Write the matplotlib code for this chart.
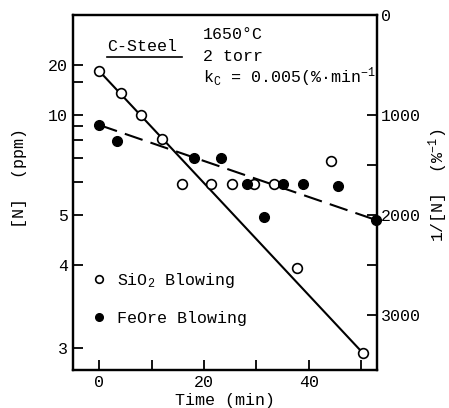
import matplotlib
matplotlib.use("Agg")
import matplotlib.pyplot as plt
from matplotlib.lines import Line2D

plt.rcParams['font.family'] = ['Liberation Mono', 'DejaVu Sans Mono']
plt.rcParams['mathtext.fontset'] = 'custom'
plt.rcParams['mathtext.rm'] = 'Liberation Mono'
plt.rcParams['mathtext.it'] = 'Liberation Mono'

# ---- data (1/[N] in %^-1) ----
sio2_t = [0, 4.2, 8.0, 12.0, 15.8, 21.3, 25.3, 29.5, 33.3, 37.7, 44.2, 50.3]
sio2_inv = [560, 780, 1000, 1240, 1690, 1690, 1690, 1690, 1690, 2530, 1460, 3380]
feore_t = [0, 3.4, 18.1, 23.2, 28.2, 31.4, 35.0, 38.9, 45.5, 52.8]
feore_inv = [1100, 1260, 1430, 1430, 1690, 2020, 1690, 1690, 1710, 2050]
sio2_fit_t = [0, 50.3]
sio2_fit_inv = [560, 3380]
feore_fit_t = [0, 52.8]
feore_fit_inv = [1100, 2050]

left_major_ppm = [20, 10, 5, 4, 3]
left_minor_ppm = [15, 9, 8, 7, 6]
right_major = [0, 1000, 2000, 3000]
right_minor = [1500, 2500]
x_major = [0, 20, 40]
x_minor = [10, 30, 50]

fig = plt.figure(figsize=(4.49, 4.08), dpi=100)
L, R, T, B = 73, 377, 15, 370
ax = fig.add_axes([L / 449, 1 - B / 408, (R - L) / 449, (B - T) / 408])
ax.set_xlim(-5, 53)
ax.set_ylim(3550, 0)

ax.plot(sio2_fit_t, sio2_fit_inv, color='black', lw=1.5, zorder=2)
ax.plot(feore_fit_t, feore_fit_inv, color='black', lw=1.5, dashes=(9, 4), zorder=2)
ax.plot(sio2_t, sio2_inv, 'o', ms=7, mfc='white', mec='black', mew=1.2, zorder=3, clip_on=False)
ax.plot(feore_t, feore_inv, 'o', ms=7, mfc='black', mec='black', mew=1.0, zorder=3, clip_on=False)

fs = 12
ax.set_yticks([1e4 / v for v in left_major_ppm])
ax.set_yticklabels([str(v) for v in left_major_ppm], fontsize=fs)
ax.set_yticks([1e4 / v for v in left_minor_ppm], minor=True)
ax.set_xticks(x_major)
ax.set_xticklabels([str(v) for v in x_major], fontsize=fs)
ax.set_xticks(x_minor, minor=True)
ax.tick_params(which='both', direction='in', length=7, width=1.3)
ax.tick_params(axis='y', which='both', right=False)
ax.tick_params(axis='x', which='both', top=False)

ax2 = ax.twinx()
ax2.set_ylim(3550, 0)
ax2.set_yticks(right_major)
ax2.set_yticklabels([str(v) for v in right_major], fontsize=fs)
ax2.set_yticks(right_minor, minor=True)
ax2.tick_params(which='both', direction='in', length=7, width=1.3, pad=3)

for a in (ax, ax2):
    for s in a.spines.values():
        s.set_linewidth(1.6)

ax.set_xlabel('Time (min)', fontsize=fs, labelpad=2)
ax.set_ylabel('[N]  (ppm)', fontsize=fs)
ax.yaxis.set_label_coords(-0.151, 0.54)
ax2.set_ylabel('1/[N]  (%$^{-1}$)', fontsize=fs)
ax2.yaxis.set_label_coords(1.163, 0.52)

# annotations
ax.text(0.112, 0.91, 'C-Steel', transform=ax.transAxes, fontsize=fs, va='center', ha='left')
ax.plot([0.112, 0.359], [0.882, 0.882], transform=ax.transAxes, color='black', lw=1.2)
ax.text(0.428, 0.944, '1650°C', transform=ax.transAxes, fontsize=fs, va='center', ha='left')
ax.text(0.428, 0.882, '2 torr', transform=ax.transAxes, fontsize=fs, va='center', ha='left')
ax.text(0.428, 0.825, r'k$_{\rm C}$ = 0.005(%·min$^{-1}$)', transform=ax.transAxes,
        fontsize=fs, va='center', ha='left', clip_on=True)

handles = [Line2D([], [], ls='none', marker='o', ms=5.5, mfc='white', mec='black', mew=1.2),
           Line2D([], [], ls='none', marker='o', ms=5.5, mfc='black', mec='black')]
ax.legend(handles, [r'SiO$_{\rm 2}$ Blowing', 'FeOre Blowing'], loc='lower left',
          bbox_to_anchor=(0.036, 0.10), frameon=False, fontsize=fs,
          handlelength=0.8, handletextpad=0.7, labelspacing=1.3, borderpad=0)

fig.savefig('out.png', dpi=100)
